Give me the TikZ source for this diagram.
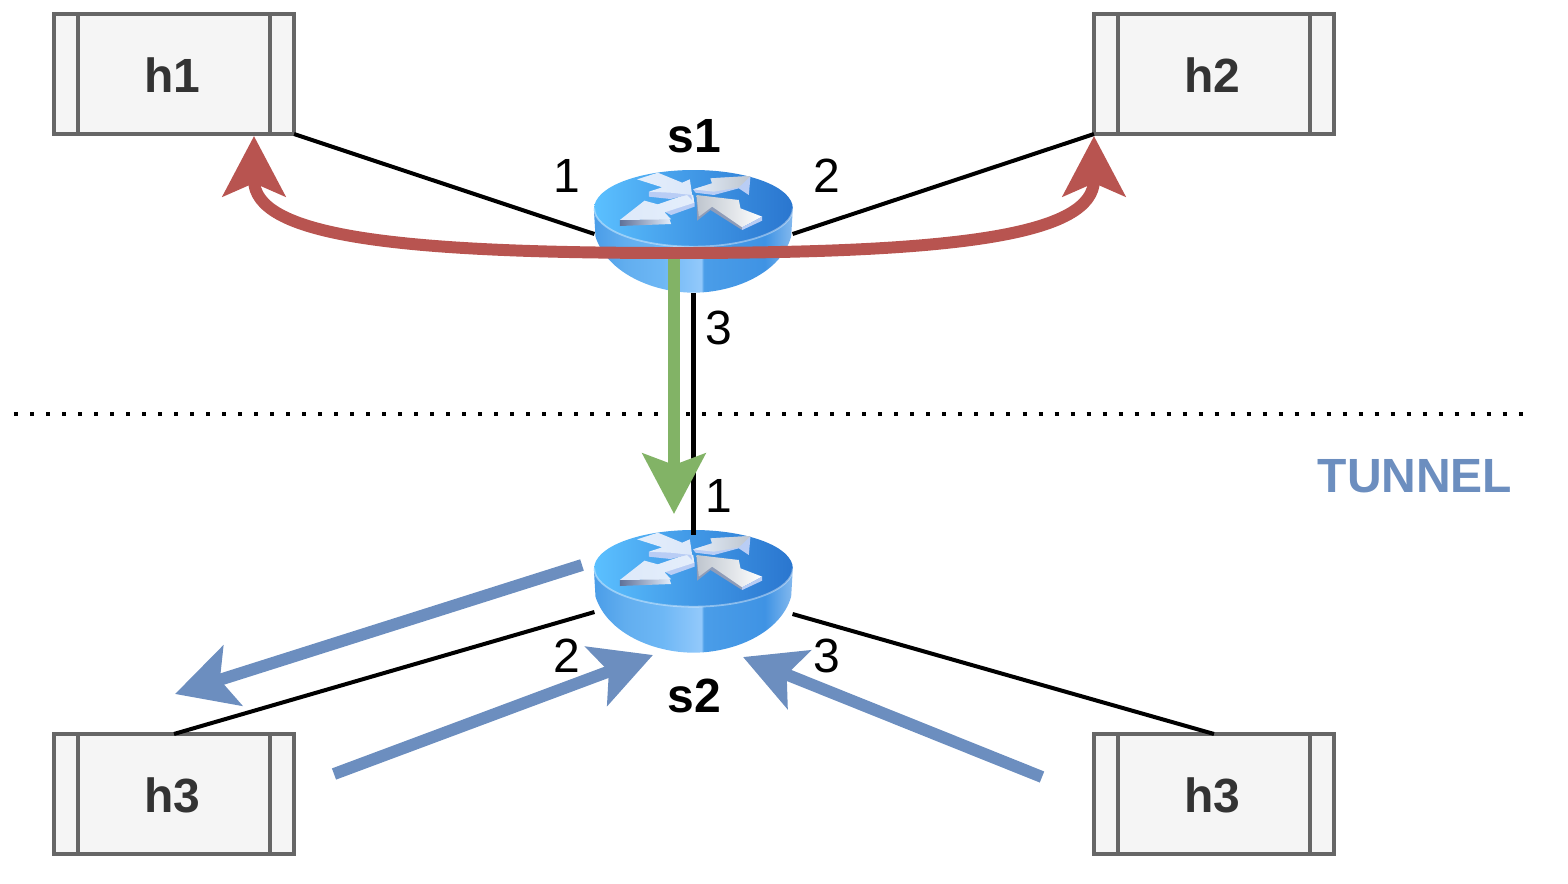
\documentclass[tikz,border=0pt]{standalone}
\usepackage{fontspec}
\setmainfont{Liberation Sans}
\usetikzlibrary{arrows.meta}
\definecolor{hostline}{HTML}{666666}
\definecolor{hostfill}{HTML}{F5F5F5}
\definecolor{hosttext}{HTML}{333333}
\definecolor{redflow}{HTML}{B85450}
\definecolor{greenflow}{HTML}{82B366}
\definecolor{blueflow}{HTML}{6C8EBF}
\definecolor{routerA}{HTML}{5BC0FF}
\definecolor{routerB}{HTML}{4198E6}
\definecolor{routerC}{HTML}{2A76CF}
\definecolor{routerD}{HTML}{4A9DE8}
\definecolor{routerE}{HTML}{62AEEF}
\definecolor{routerF}{HTML}{6DB7F5}
\definecolor{routerG}{HTML}{93C9FB}
\definecolor{routerI}{HTML}{3F93E4}
\definecolor{routerH}{HTML}{84B9EE}
\definecolor{glyphA}{HTML}{E4EEFB}
\definecolor{glyphB}{HTML}{B9CDF5}
\definecolor{glyphC}{HTML}{5F7199}
\pgfdeclarehorizontalshading{routertop}{100bp}{color(0bp)=(routerA); color(25bp)=(routerA); color(50bp)=(routerB); color(75bp)=(routerC); color(100bp)=(routerC)}
\pgfdeclarehorizontalshading{routerside}{100bp}{color(0bp)=(routerD); color(25bp)=(routerD); color(33bp)=(routerE); color(42bp)=(routerF); color(52bp)=(routerG); color(52.6bp)=(routerD); color(68bp)=(routerI); color(75bp)=(routerH); color(100bp)=(routerH)}
\tikzset{
  hostbox/.style={draw=hostline, fill=hostfill, line width=1.15pt, minimum width=2.4cm, minimum height=1.2cm, outer sep=0pt, text=hosttext, font=\fontsize{13.65}{16}\selectfont\bfseries, text height=10.52pt, execute at end node=\hspace{0.03cm},
    path picture={
      \draw[hostline, line width=1.15pt] ([xshift=0.24cm]path picture bounding box.north west) -- ([xshift=0.24cm]path picture bounding box.south west);
      \draw[hostline, line width=1.15pt] ([xshift=-0.24cm]path picture bounding box.north east) -- ([xshift=-0.24cm]path picture bounding box.south east);
    }},
  routerbox/.style={minimum width=1.98cm, minimum height=1.22cm, inner sep=0pt, outer sep=0pt},
  portlabel/.style={font=\fontsize{13.65}{16}\selectfont, inner sep=0pt},
  switchlabel/.style={font=\fontsize{13.65}{16}\selectfont\bfseries, inner sep=0pt},
  link/.style={line width=1.14pt, black},
  redarrow/.style={line width=3.4pt, draw=redflow, {Stealth[length=0.6cm, width=0.62cm, inset=0.13cm]}-{Stealth[length=0.6cm, width=0.62cm, inset=0.13cm]}},
  greenarrow/.style={line width=3.4pt, draw=greenflow, -{Stealth[length=0.6cm, width=0.62cm, inset=0.11cm]}},
  bluearrow/.style={line width=3.4pt, draw=blueflow, -{Stealth[length=0.6cm, width=0.62cm, inset=0.13cm]}},
  routerglyph/.pic={
    \begin{scope}[xscale=1/3, yscale=1/3, shift={(-369,-246)}]
      % body
      \shade[shading=routerside] (70,175) -- (75,260) .. controls (110,370) and (250,428) .. (369,428) .. controls (490,428) and (630,370) .. (662,260) -- (667,175) -- cycle;
      \shade[shading=routertop] (369,175) ellipse (298 and 115);
      \draw[white, opacity=0.4, line width=0.5pt] (71,175) arc (180:0:298 and 115);
      % arrows on top
      \shade[left color=glyphC, right color=glyphA] (148,210) -- (296,205) -- (302,222) -- (148,228) -- cycle;
      \fill[glyphB] (282,185) -- (372,155) -- (372,170) -- (302,195) -- cycle;
      \shade[left color=glyphA!85!glyphB, right color=glyphA] (148,210) -- (222,152) -- (262,163) -- (345,134) -- (368,135) -- (372,158) -- (282,187) -- (302,208) -- cycle;
      \fill[glyphB] (235,125) -- (235,140) -- (300,147) -- (350,135) -- (365,150) -- (360,125) -- cycle;
      \shade[left color=glyphA, right color=glyphA!80!glyphB] (200,88) -- (262,68) -- (335,98) -- (358,88) -- (365,135) -- (300,128) -- (235,125) -- (275,112) -- cycle;
      \fill[glyphB] (368,118) -- (425,100) -- (420,85) -- (540,78) -- (535,135) -- (505,115) -- (430,135) -- (375,128) -- cycle;
      \shade[left color=glyphA, right color=glyphA!70!hostline] (368,118) -- (425,100) -- (420,85) -- (540,78) -- (505,112) -- (430,125) -- cycle;
      \fill[glyphC!70!white] (378,135) -- (380,212) -- (420,180) -- (515,240) -- (520,220) -- (430,165) -- cycle;
      \shade[left color=glyphA!70!hostline, right color=white] (378,135) -- (505,150) -- (510,175) -- (575,200) -- (515,232) -- (425,170) -- (385,200) -- cycle;
      \fill[glyphB] (515,232) -- (575,200) -- (575,212) -- (515,240) -- cycle;
    \end{scope}
  }
}
\begin{document}
\begin{tikzpicture}[x=0.01cm, y=-0.01cm]
\useasboundingbox (0,0) rectangle (1568,884);
\node[hostbox] (h1) at (174,74) {h1};
\node[hostbox] (h2) at (1214,74) {h2};
\node[hostbox] (h3l) at (174,794) {h3};
\node[hostbox] (h3r) at (1214,794) {h3};
\node[routerbox] (s1) at (693.5,232) {};
\node[routerbox] (s2) at (693.5,592) {};
\pic at (s1) {routerglyph};
\pic at (s2) {routerglyph};
\node[switchlabel] (s1name) at (694.5,136) {s1};
\node[switchlabel] (s2name) at (694.5,696) {s2};
\node[portlabel] (p1) at (566.5,176) {1};
\node[portlabel] (p2) at (826.5,176) {2};
\node[portlabel] (p3) at (718.5,328) {3};
\node[portlabel] (p4) at (718.5,496) {1};
\node[portlabel] (p5) at (566.5,656) {2};
\node[portlabel] (p6) at (826.5,656) {3};
\node[font=\fontsize{13.65}{16}\selectfont\bfseries, text=blueflow, inner sep=0pt] (tunnel) at (1415,476) {TUNNEL};
\coordinate (dotl) at (14,413.5);
\coordinate (dotr) at (1524,413.5);
\coordinate (greenstart) at (674,250);
\coordinate (greenend) at (674,514);
\coordinate (redl) at (254,136);
\coordinate (redm) at (674,253);
\coordinate (redr) at (1094,136);
\coordinate (bluea) at (582,565);
\coordinate (blueb) at (175,694);
\coordinate (bluec) at (334,774);
\coordinate (blued) at (653,655);
\coordinate (bluee) at (1042,777);
\coordinate (bluef) at (743,657);
\draw[link] (h1.south east) -- ([yshift=-0.02cm]s1.west);
\draw[link] (h2.south west) -- ([yshift=-0.02cm]s1.east);
\draw[black, line width=1.14pt, dash pattern=on 0.04cm off 0.12cm] (dotl) -- (dotr);
\draw[link] (s1.south) -- ([yshift=-0.04cm]s2.north);
\draw[link] (h3l.north) -- ([yshift=-0.2cm]s2.west);
\draw[link] (h3r.north) -- ([yshift=-0.22cm]s2.east);
\path[greenarrow, draw] (greenstart) -- (greenend);
\path[redarrow, draw] (redl) .. controls (254,235) and (390,253) .. (redm) .. controls (958,253) and (1094,235) .. (redr);
\path[bluearrow, draw] (bluea) -- (blueb);
\path[bluearrow, draw] (bluec) -- (blued);
\path[bluearrow, draw] (bluee) -- (bluef);
\end{tikzpicture}
\end{document}
